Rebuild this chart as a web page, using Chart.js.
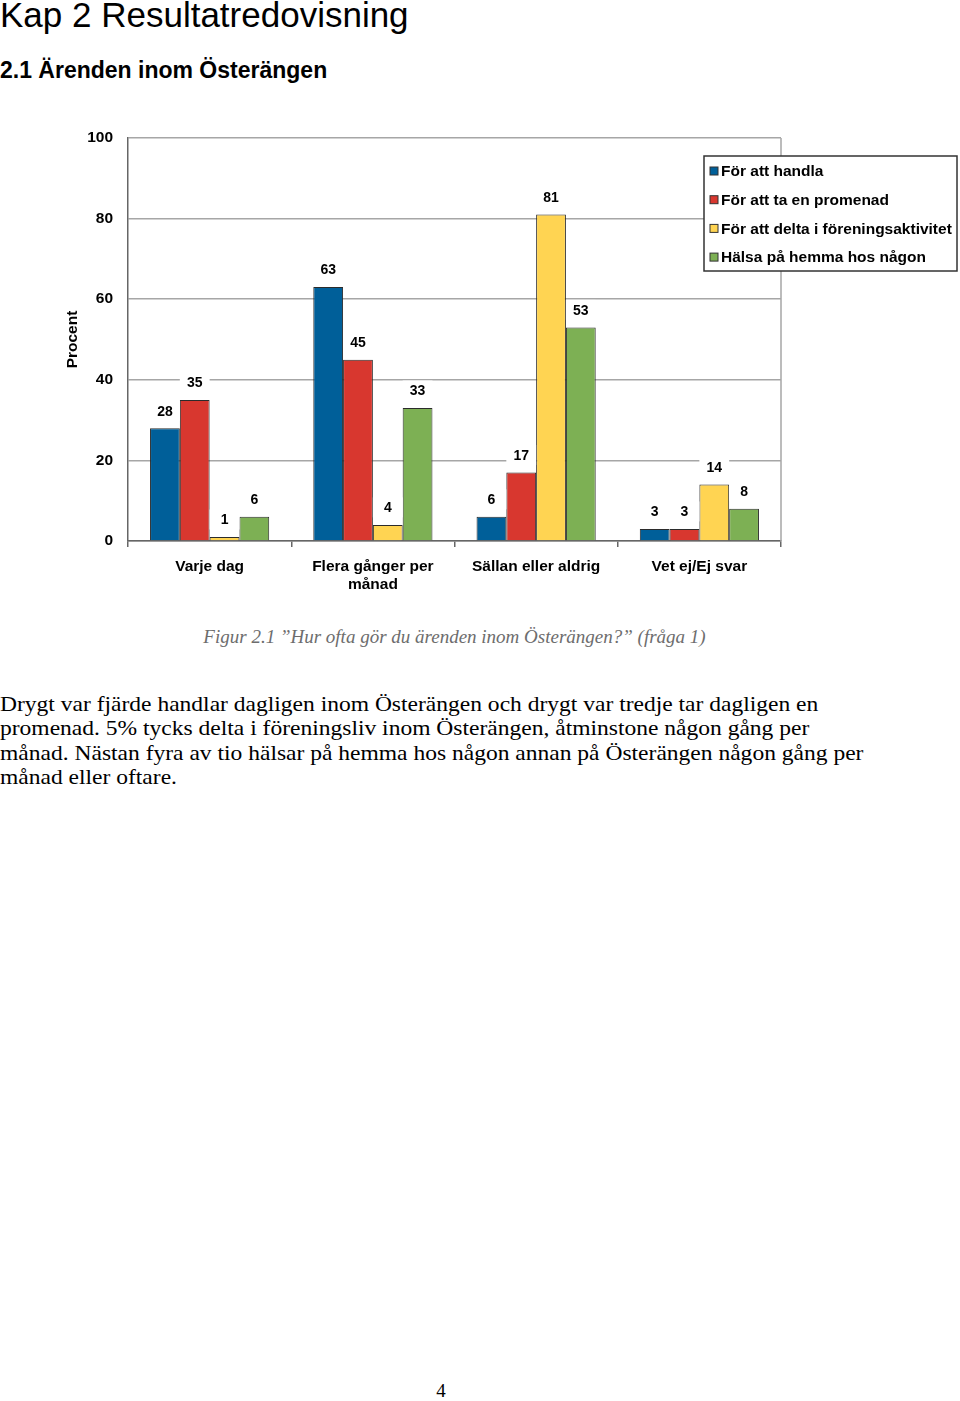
<!DOCTYPE html>
<html>
<head>
<meta charset="utf-8">
<script src="https://cdn.jsdelivr.net/npm/chart.js@4.4.1/dist/chart.umd.min.js"></script>
<style>
  body { margin: 0; background: #fff; width: 960px; height: 1401px; position: relative; overflow: hidden; }
  .abs { position: absolute; white-space: nowrap; }
  #title { left: 0; top: -2px; font: 35px/34px "Liberation Sans", Arial, sans-serif; color: #000; }
  #subtitle { left: 0; top: 59px; font: bold 23px/23px "Liberation Sans", Arial, sans-serif; color: #000; }
  #chartWrap { left: 0; top: 120px; width: 960px; height: 490px; }
  #chartWrap canvas { display: block; }
  #caption { left: 128px; width: 653px; top: 626px; text-align: center; font: italic 19px/22px "Liberation Serif", serif; color: #6d6d6d; }
  #body { left: 0; top: 692px; font: 21px/24.3px "Liberation Serif", serif; color: #000; transform: scaleX(1.12); transform-origin: 0 0; }
  #page { left: 0; width: 882px; top: 1380px; text-align: center; font: 19px/22px "Liberation Serif", serif; color: #000; }
</style>
</head>
<body>
<div id="title" class="abs">Kap 2 Resultatredovisning</div>
<div id="subtitle" class="abs">2.1 Ärenden inom Österängen</div>
<div id="chartWrap" class="abs"><canvas id="chart" width="960" height="490"></canvas></div>
<div id="caption" class="abs">Figur 2.1 ”Hur ofta gör du ärenden inom Österängen?” (fråga 1)</div>
<div id="body" class="abs">Drygt var fjärde handlar dagligen inom Österängen och drygt var tredje tar dagligen en<br>promenad. 5% tycks delta i föreningsliv inom Österängen, åtminstone någon gång per<br>månad. Nästan fyra av tio hälsar på hemma hos någon annan på Österängen någon gång per<br>månad eller oftare.</div>
<div id="page" class="abs">4</div>

<script>
// Kategorier och värden (procent)
const categories = ['Varje dag', ['Flera gånger per', 'månad'], 'Sällan eller aldrig', 'Vet ej/Ej svar'];
const seriesNames = ['För att handla', 'För att ta en promenad', 'För att delta i föreningsaktivitet', 'Hälsa på hemma hos någon'];
const handla = [28, 63, 6, 3];
const promenad = [35, 45, 17, 3];
const forening = [1, 4, 81, 14];
const halsa = [6, 33, 53, 8];
const yTicks = [0, 20, 40, 60, 80, 100];

const colors = ['#005f99', '#d8372f', '#ffd452', '#7db054'];
const fontFamily = '"Liberation Sans", Arial, sans-serif';

// Etiketter ovanför staplarna, med vit bakgrund
const valueLabels = {
  id: 'valueLabels',
  afterDatasetsDraw(chart) {
    const ctx = chart.ctx;
    ctx.save();
    ctx.font = 'bold 14px ' + fontFamily;
    ctx.textAlign = 'center';
    ctx.textBaseline = 'middle';
    chart.data.datasets.forEach((ds, i) => {
      chart.getDatasetMeta(i).data.forEach((bar, j) => {
        const cy = bar.y - 17.5;
        ctx.fillStyle = '#fff';
        ctx.fillRect(bar.x - bar.width / 2, cy - 10, bar.width, 20);
        ctx.fillStyle = '#000';
        ctx.fillText(ds.data[j], bar.x, cy + 1);
      });
    });
    ctx.restore();
  }
};

// Ram till höger och legend i en ruta
const frameAndLegend = {
  id: 'frameAndLegend',
  beforeDatasetsDraw(chart) {
    const { ctx, chartArea } = chart;
    ctx.save();
    ctx.strokeStyle = '#a6a6a6';
    ctx.lineWidth = 1.5;
    ctx.beginPath();
    ctx.moveTo(chartArea.right, chartArea.top);
    ctx.lineTo(chartArea.right, chartArea.bottom);
    ctx.stroke();
    ctx.restore();
  },
  afterDraw(chart) {
    const ctx = chart.ctx;
    const bx = 704, by = 36, bw = 253, bh = 115;
    ctx.save();
    ctx.fillStyle = '#fff';
    ctx.fillRect(bx, by, bw, bh);
    ctx.strokeStyle = '#333';
    ctx.lineWidth = 1.5;
    ctx.strokeRect(bx, by, bw, bh);
    ctx.font = 'bold 15.5px ' + fontFamily;
    ctx.textBaseline = 'middle';
    ctx.textAlign = 'left';
    chart.data.datasets.forEach((ds, i) => {
      const y = by + 15 + i * 28.7;
      ctx.fillStyle = ds.backgroundColor;
      ctx.fillRect(bx + 6, y - 4, 8, 8);
      ctx.strokeStyle = '#333';
      ctx.lineWidth = 1;
      ctx.strokeRect(bx + 6, y - 4, 8, 8);
      ctx.fillStyle = '#000';
      ctx.fillText(ds.label, bx + 17, y + 1);
    });
    ctx.restore();
  }
};

const allSeries = [handla, promenad, forening, halsa];

new Chart(document.getElementById('chart'), {
  type: 'bar',
  data: {
    labels: categories,
    datasets: allSeries.map((vals, i) => ({
      label: seriesNames[i],
      data: vals,
      backgroundColor: colors[i],
      borderColor: '#2b2b2b',
      borderWidth: 1,
      borderSkipped: 'bottom',
      categoryPercentage: 0.73,
      barPercentage: 1.0,
    })),
  },
  options: {
    responsive: false,
    animation: false,
    layout: { padding: { top: 18, right: 179, left: 0, bottom: 0 } },
    plugins: {
      legend: { display: false },
      tooltip: { enabled: false },
    },
    scales: {
      x: {
        grid: { offset: true, drawOnChartArea: false, drawTicks: true, tickLength: 6, color: '#666', lineWidth: 1.5 },
        border: { color: '#666', width: 1.5 },
        ticks: { color: '#000', font: { family: fontFamily, size: 15.5, weight: 'bold' }, padding: 10, maxRotation: 0, autoSkip: false },
        afterFit(scale) { scale.height = 69; },
      },
      y: {
        min: 0,
        max: 100,
        afterBuildTicks(scale) { scale.ticks = yTicks.map(v => ({ value: v })); },
        // osynliga tickmarkeringar, ger avstånd till etiketterna
        grid: { color: '#a6a6a6', lineWidth: 1.5, drawTicks: true, tickLength: 12, tickColor: 'rgba(0,0,0,0)' },
        border: { color: '#666', width: 1.5 },
        ticks: { color: '#000', font: { family: fontFamily, size: 15.5, weight: 'bold' }, padding: 3 },
        title: { display: true, text: 'Procent', color: '#000', font: { family: fontFamily, size: 15.5, weight: 'bold' }, padding: { top: 63, bottom: 0 } },
        afterFit(scale) { scale.width = 128; },
      },
    },
  },
  plugins: [frameAndLegend, valueLabels],
});
</script>
</body>
</html>
